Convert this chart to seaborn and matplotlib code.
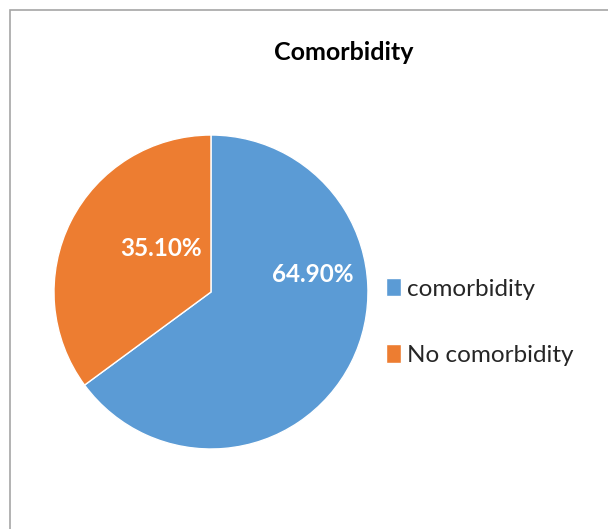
import matplotlib
matplotlib.use("Agg")
import matplotlib.pyplot as plt
import seaborn as sns
from matplotlib.patches import Rectangle

categories = ["comorbidity", "No comorbidity"]
shares = [64.90, 35.10]
colors = ["#5B9BD5", "#ED7D31"]
title = "Comorbidity"

sns.set_theme(style="white")
plt.rcParams["font.family"] = ["Lato", "DejaVu Sans"]

fig = plt.figure(figsize=(6.08, 5.29), dpi=100)
fig.patch.set_facecolor("white")

# chart-area frame
fig.add_artist(Rectangle((10 / 608, -0.1), 1.2, (529 - 10) / 529 + 0.1,
                         transform=fig.transFigure, fill=False,
                         edgecolor="#a6a6a6", linewidth=1.2))

ax = fig.add_axes([0.0888, 0.1512, 0.5164, 0.5936])
wedges, _ = ax.pie(shares, colors=colors, startangle=90, counterclock=False,
                   wedgeprops=dict(linewidth=1, edgecolor="white"))
ax.set_aspect("equal")
ax.set_xlim(-1, 1)
ax.set_ylim(-1, 1)

label_pos = [(0.65, 0.11), (-0.32, 0.275)]
for (x, y), v in zip(label_pos, shares):
    ax.text(x, y, f"{v:.2f}%", color="white", fontsize=17.5, fontweight="bold",
            ha="center", va="center")

fig.text(344 / 608, 1 - 52 / 529, title, ha="center", va="center",
         fontsize=18, fontweight="bold", color="black")

fig.legend(wedges, categories, loc="center left",
           bbox_to_anchor=(364 / 608, 1 - 322 / 529), frameon=False,
           fontsize=17.5, handlelength=0.62, handleheight=0.8,
           handletextpad=0.25, labelspacing=1.85)

fig.savefig("out.png", dpi=100, facecolor="white")
